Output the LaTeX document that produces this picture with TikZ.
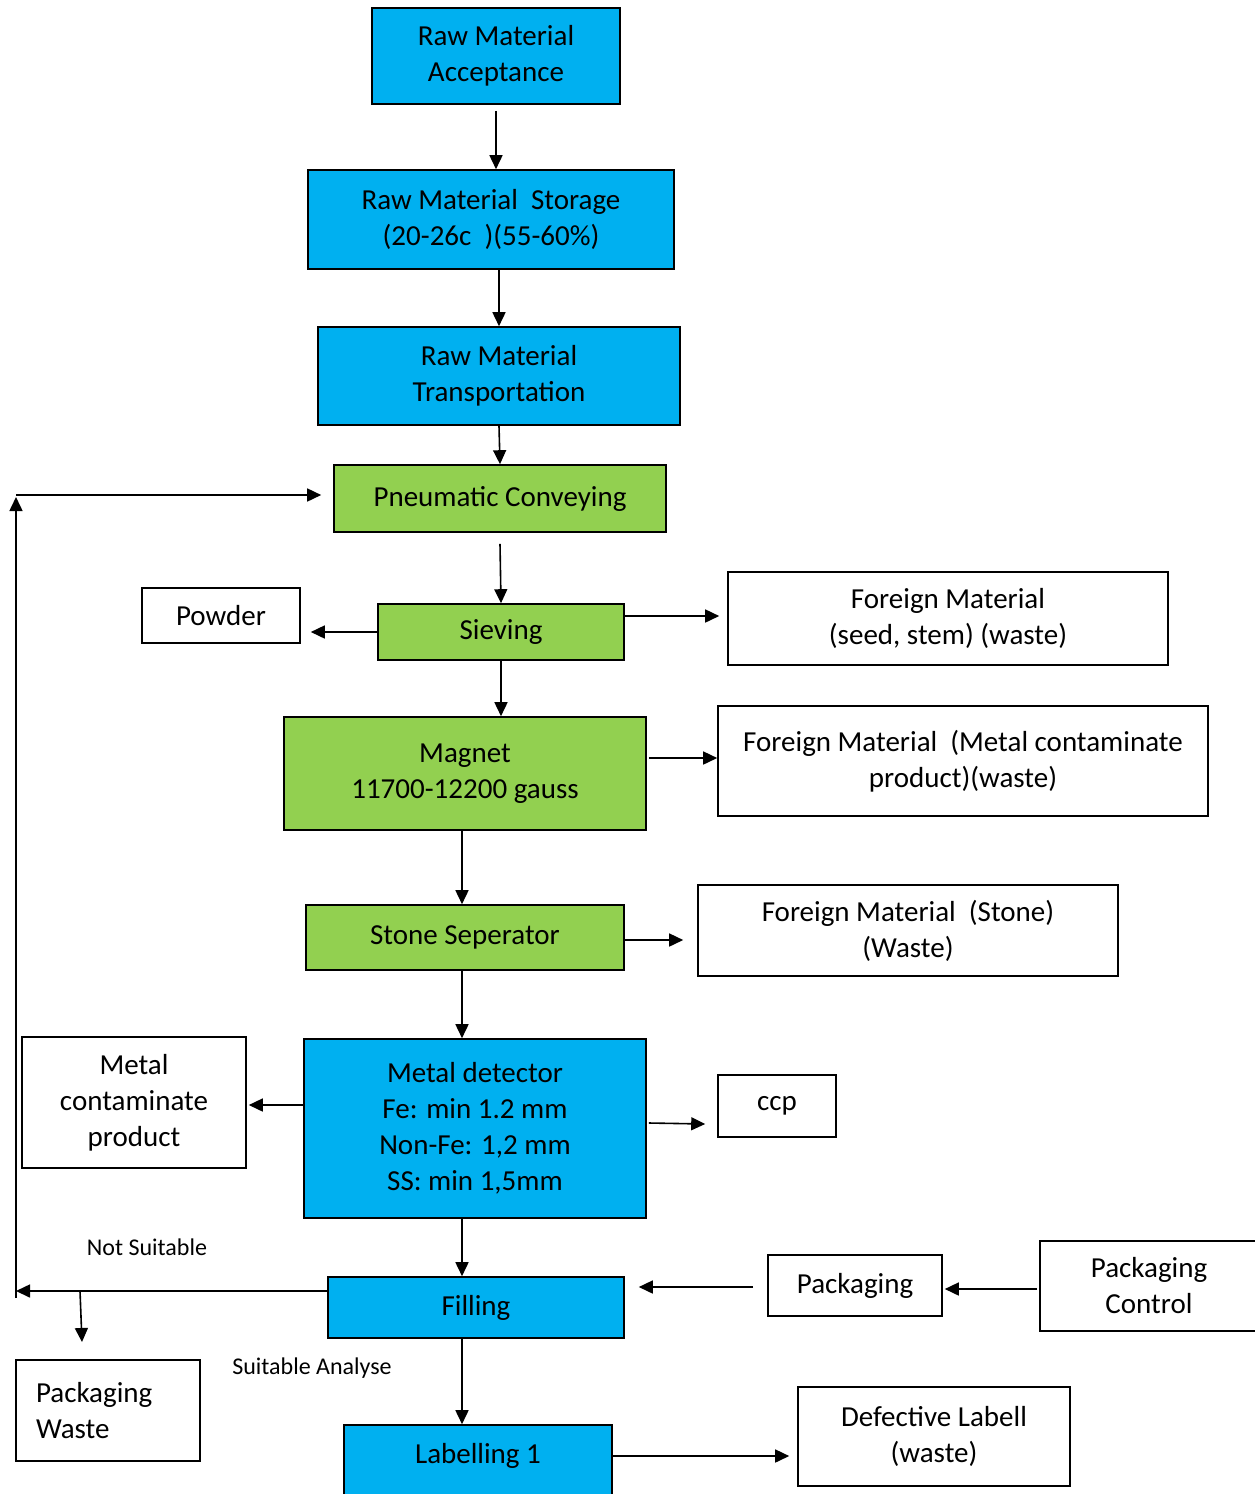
\documentclass[tikz,border=0pt]{standalone}
\usepackage{fontspec}
\setmainfont{Carlito}
\usetikzlibrary{arrows.meta,calc}
\definecolor{bblue}{HTML}{00B0F0}
\definecolor{bgreen}{HTML}{92D050}
\begin{document}
\begin{tikzpicture}[x=1pt,y=-1pt,
  box/.style={draw=black,line width=1.6pt,align=center,inner sep=0pt,font=\fontsize{29}{36}\selectfont},
  bluebox/.style={box,fill=bblue},
  greenbox/.style={box,fill=bgreen},
  whitebox/.style={box,fill=white},
  arr/.style={line width=1.6pt,-{Triangle[length=14pt,width=13pt]}},
  lbl/.style={font=\fontsize{24}{28}\selectfont,inner sep=0pt}]
\clip (0,0) rectangle (1255,1494);
\fill[white] (0,0) rectangle (1255,1494);
\coordinate (colx) at (462,0);
% nodes
\node[bluebox,minimum width=248,minimum height=96] (acc) at (496,56) {Raw Material\\Acceptance};
\node[bluebox,minimum width=366,minimum height=99] (stor) at (491,219.5) {Raw Material~~Storage\\(20-26c~~)(55-60\%)};
\node[bluebox,minimum width=362,minimum height=98] (trans) at (499,376) {Raw Material\\Transportation};
\node[greenbox,minimum width=332,minimum height=67] (pneu) at (500,498.5) {Pneumatic Conveying};
\node[greenbox,minimum width=246,minimum height=56] (siev) at (501,632) {Sieving};
\node[whitebox,minimum width=158,minimum height=55] (powder) at (221,615.5) {Powder};
\node[whitebox,minimum width=440,minimum height=93] (fm1) at (948,618.5) {Foreign Material\\(seed, stem) (waste)};
\node[greenbox,minimum width=362,minimum height=113] (magnet) at (465,773.5) {Magnet\\11700-12200 gauss};
\node[whitebox,minimum width=490,minimum height=110] (fm2) at (963,761) {Foreign Material~~(Metal contaminate\\product)(waste)};
\node[greenbox,minimum width=318,minimum height=65] (stone) at (465,937.5) {Stone Seperator};
\node[whitebox,minimum width=420,minimum height=91] (fm3) at (908,930.5) {Foreign Material~~(Stone)\\(Waste)};
\node[bluebox,minimum width=342,minimum height=179] (md) at (475,1128.5) {Metal detector\\Fe: min 1.2 mm\\Non-Fe: 1,2 mm\\SS: min 1,5mm};
\node[whitebox,minimum width=224,minimum height=131] (mcp) at (134,1102.5) {Metal\\contaminate\\product};
\node[whitebox,minimum width=118,minimum height=62] (ccp) at (777,1106) {ccp};
\node[bluebox,minimum width=296,minimum height=61] (fill) at (476,1307.5) {Filling};
\node[whitebox,minimum width=174,minimum height=61] (pack) at (855,1285.5) {Packaging};
\node[whitebox,minimum width=218,minimum height=90] (pctrl) at (1149,1286) {Packaging\\Control};
\node[whitebox,minimum width=184,minimum height=101,text width=144,align=left] (pw) at (108,1410.5) {Packaging\\Waste};
\node[bluebox,minimum width=268,minimum height=80,text height=20pt,text depth=24pt] (lab) at (478,1465) {Labelling 1};
\node[whitebox,minimum width=272,minimum height=99] (defl) at (934,1436.5) {Defective Labell\\(waste)};
\node[lbl] (ns) at (147,1247) {Not Suitable};
\node[lbl] (sa) at (312,1368) {Suitable Analyse};
% coordinates for the return loop
\coordinate (lftb) at (16,1291);
\coordinate (lftbot) at (16,1298);
\coordinate (lfttop) at (16,497);
\coordinate (lftcorner) at (16,495);
\coordinate (br1) at (80,1291);
\coordinate (br2) at (82,1342);
% connectors
\draw[arr] ([yshift=-6pt]acc.south) -- (acc.south |- stor.north);
\draw[arr] (stor.south -| trans.north) -- (trans.north);
\draw[arr] (trans.south) -- (pneu.north);
\draw[arr] ([yshift=-11pt]pneu.south) -- (siev.north);
\draw[arr] (siev.west) -- ($(siev.west -| powder.east)+(10,0)$);
\draw[arr] ($(siev.east)+(0,-16)$) -- ($(fm1.west)+(-8,-2.5)$);
\draw[arr] (siev.south) -- (siev.south |- magnet.north);
\draw[arr] ($(magnet.east |- fm2.west)+(2,-3)$) -- ($(fm2.west)+(0,-3)$);
\draw[arr] (magnet.south -| colx) -- (stone.north -| colx);
\draw[arr] ($(stone.east)+(0,2.5)$) -- ($(stone.east -| fm3.west)+(-14,2.5)$);
\draw[arr] (stone.south -| colx) -- (md.north -| colx);
\draw[arr] ($(md.west)+(0,-23.5)$) -- ($(mcp.east)+(2,2.5)$);
\draw[arr] ($(md.east)+(2,-5.5)$) -- ($(ccp.west)+(-12,18)$);
\draw[arr] (md.south -| colx) -- (fill.north -| colx);
\draw[arr] ($(fill.west)+(0,-16.5)$) -- (lftb);
\draw[arr] (lftbot) -- (lfttop);
\draw[arr] (lftcorner) -- ($(pneu.west)+(-12,-3.5)$);
\draw[arr] (br1) -- (br2);
\draw[arr] ($(pack.west)+(-14,1.5)$) -- ($(fill.east)+(14,-20.5)$);
\draw[arr] ($(pctrl.west)+(-2,3)$) -- ($(pack.east)+(2,3.5)$);
\draw[arr] (fill.south -| colx) -- (lab.north -| colx);
\draw[arr] ($(lab.east)+(0,-9)$) -- ($(lab.east -| defl.west)+(-8,-9)$);
\end{tikzpicture}
\end{document}
